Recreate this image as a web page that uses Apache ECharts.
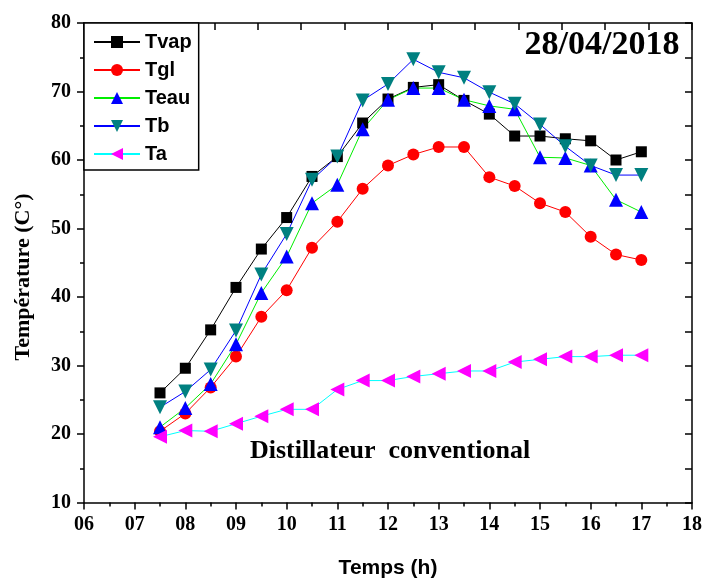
<!DOCTYPE html>
<html>
<head>
<meta charset="utf-8">
<script src="https://cdn.jsdelivr.net/npm/echarts@6/dist/echarts.min.js"></script>
<style>
html,body{margin:0;padding:0;background:#fff;}
#chart{width:706px;height:585px;}
</style>
</head>
<body>
<div id="chart"></div>
<script>
const hours = [7.5, 8, 8.5, 9, 9.5, 10, 10.5, 11, 11.5, 12, 12.5, 13, 13.5, 14, 14.5, 15, 15.5, 16, 16.5, 17];
const tvap = [26.0, 29.6, 35.2, 41.4, 47.0, 51.6, 57.6, 60.5, 65.4, 68.9, 70.6, 71.0, 68.7, 66.7, 63.5, 63.5, 63.1, 62.8, 60.0, 61.2];
const tgl  = [20.4, 23.0, 26.8, 31.3, 37.1, 41.0, 47.2, 51.0, 55.8, 59.2, 60.8, 61.9, 61.9, 57.5, 56.2, 53.7, 52.4, 48.8, 46.2, 45.4];
const teau = [21.0, 23.8, 27.3, 33.1, 40.6, 45.9, 53.7, 56.4, 64.5, 68.8, 70.5, 70.5, 68.8, 67.9, 67.4, 60.4, 60.3, 59.2, 54.2, 52.4];
const tb   = [23.9, 26.2, 29.4, 35.1, 43.3, 49.2, 57.1, 60.5, 68.7, 71.1, 74.7, 72.8, 72.0, 69.9, 68.2, 65.2, 62.0, 59.2, 57.8, 57.8];
const ta   = [19.6, 20.5, 20.4, 21.5, 22.6, 23.6, 23.6, 26.5, 27.8, 27.8, 28.4, 28.8, 29.2, 29.2, 30.5, 30.9, 31.3, 31.3, 31.5, 31.5];
const seriesNames = ['Tvap', 'Tgl', 'Teau', 'Tb', 'Ta'];
const xTickLabels = ['06','07','08','09','10','11','12','13','14','15','16','17','18'];
const dateText = '28/04/2018';
const noteText = 'Distillateur  conventional';
const xTitle = 'Temps (h)';
const yTitle = 'Température (C°)';

const pair = (vals) => hours.map((h, i) => [h, vals[i]]);

const serif = '"Liberation Serif", "Times New Roman", serif';
const sans = '"Liberation Sans", Arial, sans-serif';

const chart = echarts.init(document.getElementById('chart'), null, {renderer: 'canvas'});

function mkSeries(name, vals, lineColor, symColor, symbol, size, rotate) {
  return {
    name: name, type: 'line', xAxisIndex: 0, yAxisIndex: 0,
    data: pair(vals),
    symbol: symbol, symbolSize: size, symbolRotate: rotate || 0,
    showAllSymbol: true,
    lineStyle: {color: lineColor, width: 1},
    itemStyle: {color: symColor, borderWidth: 0},
    emphasis: {disabled: true},
    animation: false
  };
}

const option = {
  backgroundColor: '#fff',
  animation: false,
  grid: {left: 84, right: 14, top: 23, bottom: 82.5, containLabel: false},
  legend: {
    orient: 'vertical', left: 84, top: 23,
    data: seriesNames,
    itemWidth: 46, itemHeight: 15, itemGap: 8,
    padding: [9, 7, 6, 9],
    borderColor: '#000', borderWidth: 1.5,
    backgroundColor: '#fff',
    textStyle: {fontFamily: sans, fontWeight: 'bold', fontSize: 20, color: '#000'},
    selectedMode: false
  },
  xAxis: [
    {
      type: 'value', position: 'bottom', min: 6, max: 18, interval: 1,
      axisLine: {show: true, onZero: false, lineStyle: {color: '#000', width: 1.5}},
      axisTick: {show: true, inside: false, length: 7, lineStyle: {color: '#000', width: 1.5}},
      minorTick: {show: true, splitNumber: 2, length: 4, lineStyle: {color: '#000', width: 1.5}},
      splitLine: {show: false},
      axisLabel: {
        margin: 12, color: '#000', fontFamily: serif, fontWeight: 'bold', fontSize: 20,
        formatter: (v) => xTickLabels[Math.round(v) - 6]
      },
      name: xTitle, nameLocation: 'middle', nameGap: 55,
      nameTextStyle: {fontFamily: sans, fontWeight: 'bold', fontSize: 21, color: '#000'}
    },
    {
      type: 'value', position: 'top', min: 0, max: 14, interval: 1,
      axisLine: {show: true, onZero: false, lineStyle: {color: '#000', width: 1.5}},
      axisTick: {show: true, inside: true, length: 7, lineStyle: {color: '#000', width: 1.5}},
      axisLabel: {show: false}, splitLine: {show: false}
    }
  ],
  yAxis: [
    {
      type: 'value', position: 'left', min: 10, max: 80, interval: 10,
      axisLine: {show: true, onZero: false, lineStyle: {color: '#000', width: 1.5}},
      axisTick: {show: true, inside: false, length: 7, lineStyle: {color: '#000', width: 1.5}},
      minorTick: {show: true, splitNumber: 2, length: 4, lineStyle: {color: '#000', width: 1.5}},
      splitLine: {show: false},
      axisLabel: {margin: 13, color: '#000', fontFamily: serif, fontWeight: 'bold', fontSize: 20}
    },
    {
      type: 'value', position: 'right', min: 10, max: 80, interval: 5,
      axisLine: {show: true, onZero: false, lineStyle: {color: '#000', width: 1.5}},
      axisTick: {show: true, inside: true, length: 7, lineStyle: {color: '#000', width: 1.5}},
      axisLabel: {show: false}, splitLine: {show: false}
    }
  ],
  graphic: [
    {
      type: 'text', x: 602, y: 62,
      style: {text: dateText, font: 'bold 34px ' + serif, fill: '#000', textAlign: 'center', textVerticalAlign: 'bottom'}
    },
    {
      type: 'text', x: 390, y: 464,
      style: {text: noteText, font: 'bold 26px ' + serif, fill: '#000', textAlign: 'center', textVerticalAlign: 'bottom'}
    },
    {
      type: 'text', x: 23, y: 277, rotation: Math.PI / 2,
      style: {text: yTitle, font: 'bold 22px ' + serif, fill: '#000', textAlign: 'center', textVerticalAlign: 'middle'}
    }
  ],
  series: [
    mkSeries('Tvap', tvap, '#000000', '#000000', 'rect', 11),
    mkSeries('Tgl', tgl, '#ff0000', '#ff0000', 'circle', 12),
    mkSeries('Teau', teau, '#00ee00', '#0000ff', 'triangle', 14),
    mkSeries('Tb', tb, '#0000ff', '#008080', 'triangle', 14, 180),
    mkSeries('Ta', ta, '#00ffff', '#ff00ff', 'triangle', 14, 90)
  ]
};
chart.setOption(option);
</script>
</body>
</html>
